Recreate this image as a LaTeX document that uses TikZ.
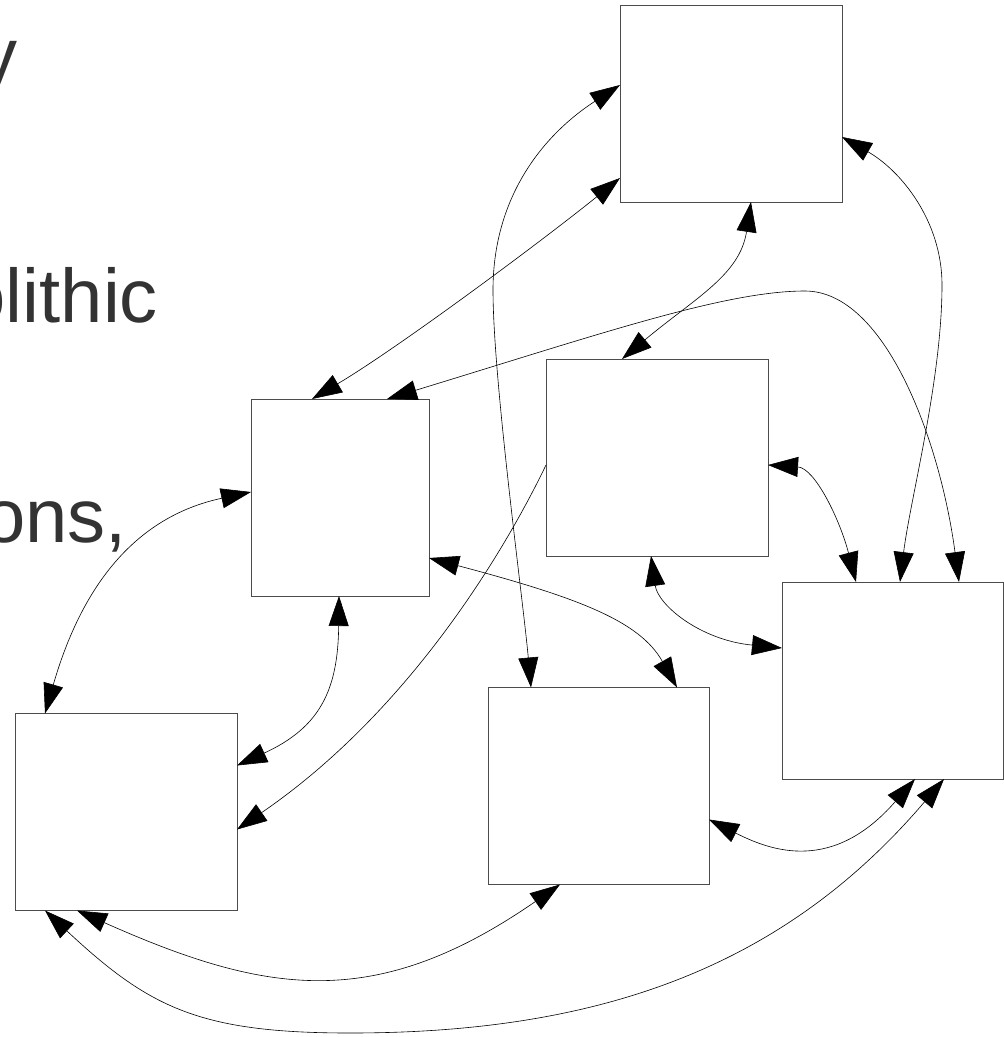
\documentclass[tikz,border=0pt]{standalone}
\usepackage{fontspec}
\setmainfont{Liberation Sans}
\usetikzlibrary{arrows.meta,calc}
\definecolor{slidetext}{HTML}{333333}
\begin{document}
\begin{tikzpicture}[x=1pt,y=-1pt,
  box/.style={draw=black!70, line width=0.9pt, fill=white, minimum width=#1,
              minimum height=197pt, inner sep=0pt, outer sep=0pt},
  link/.style={draw=black, line width=0.6pt, {Triangle[length=30pt,width=20pt]}-{Triangle[length=30pt,width=20pt]}},
  oneway/.style={draw=black, line width=0.6pt, -{Triangle[length=30pt,width=20pt]}},
  slide/.style={anchor=base east, inner sep=0pt, outer sep=0pt, text=slidetext,
                font=\fontsize{76}{80}\selectfont}]
\useasboundingbox (0,0) rectangle (1004,1037);
\clip (0,0) rectangle (1004,1037);

% slide text running in from the left
\node[slide] (t1) at (18,81.5) {y};
\node[slide] (t2) at (158,322) {olithic};
\node[slide] (t3) at (127,542) {ons,};

% services
\node[box=222pt] (A) at (731,103.5) {};
\node[box=222pt] (B) at (657,457.5) {};
\node[box=178pt] (C) at (340,497.5) {};
\node[box=222pt] (D) at (126,812) {};
\node[box=221pt] (E) at (598.5,786) {};
\node[box=221pt] (F) at (892.5,680.5) {};

% bend points of the longer connectors
\coordinate (w2) at (493,290);
\coordinate (w3) at (942,285);
\coordinate (w5) at (805,291);
\coordinate (w13) at (350,1033);

% A -- C
\draw[link] ($(A.north west)+(0,173)$) .. controls +(-78,63) and +(86,-51) .. ($(C.north west)+(61,0)$);
% A -- E
\draw[link] ($(A.north west)+(0,80)$) .. controls +(-80,52) and +(0,-90) .. (w2)
            .. controls +(0,90) and +(-8,-88) .. ($(E.north west)+(43,0)$);
% A -- F
\draw[link] ($(A.north east)+(0,132)$) .. controls +(58,33) and +(0,-65) .. (w3)
            .. controls +(0,95) and +(10,-82) .. ($(F.north west)+(118,0)$);
% A -- B
\draw[link] ($(A.south west)+(131,0)$) .. controls +(-11,73) and +(73,-61) .. ($(B.north west)+(76,0)$);
% C -- F
\draw[link] ($(C.north west)+(136,0)$) .. controls +(213,-65) and +(-80,0) .. (w5)
            .. controls +(80,0) and +(-19,-142) .. ($(F.north west)+(177,0)$);
% B -- F (top)
\draw[link] ($(B.north east)+(0,106)$) .. controls +(47,3) and +(-16,-62) .. ($(F.north west)+(74,0)$);
% B -- F (left)
\draw[link] ($(B.south west)+(105,0)$) .. controls +(7,49) and +(-82,-8) .. ($(F.north west)+(0,66)$);
% B -> D
\draw[oneway] ($(B.north west)+(0,106)$) .. controls +(-36,75) and +(178,-122) .. ($(D.north east)+(0,116)$);
% C -- E
\draw[link] ($(C.north east)+(0,159)$) .. controls +(151,40) and +(-37,-66) .. ($(E.north west)+(189,0)$);
% C -- D (right)
\draw[link] ($(C.south west)+(88,0)$) .. controls +(-1,94) and +(83,-38) .. ($(D.north east)+(0,52)$);
% C -- D (top)
\draw[link] ($(C.north west)+(0,93)$) .. controls +(-131,28) and +(30,-104) .. ($(D.north west)+(30,0)$);
% D -- E
\draw[link] ($(D.south west)+(62,0)$) .. controls +(189,84) and +(-185,128) .. ($(E.south west)+(72,0)$);
% D -- F
\draw[link] ($(D.south west)+(30,0)$) .. controls +(104,97) and +(-151,0) .. (w13)
            .. controls +(249,0) and +(-161,189) .. ($(F.south west)+(162,0)$);
% E -- F
\draw[link] ($(E.north east)+(0,132)$) .. controls +(63,32) and +(-82,94) .. ($(F.south west)+(133,0)$);
\end{tikzpicture}
\end{document}
